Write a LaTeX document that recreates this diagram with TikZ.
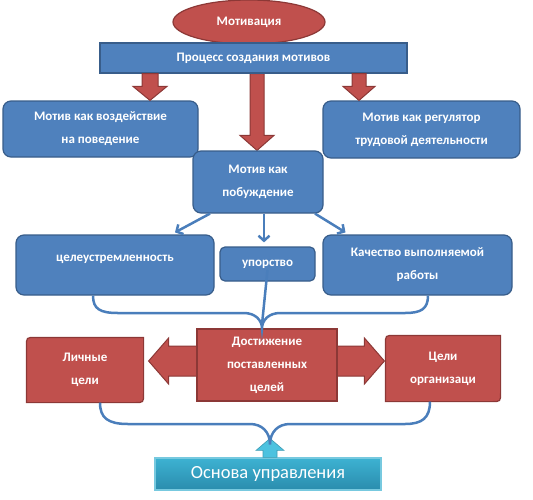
\documentclass[tikz,border=0pt]{standalone}
\usepackage{fontspec}
\setmainfont{Carlito}
\usetikzlibrary{arrows.meta, shapes.geometric, calc, backgrounds}
\definecolor{cblue}{HTML}{4F81BD}
\definecolor{cbluedark}{HTML}{385D8A}
\definecolor{clink}{HTML}{4A7EBB}
\definecolor{cred}{HTML}{C0504D}
\definecolor{creddark}{HTML}{8C3836}
\definecolor{cteal}{HTML}{3DB2D2}
\definecolor{ctealdark}{HTML}{2A8CAD}
\definecolor{ctealarrow}{HTML}{4CC2DF}
\tikzset{
  every picture/.style={line width=1.2pt},
  boxtext/.style={text=white, font=\bfseries\fontsize{13}{23}\selectfont, align=center, inner sep=0pt},
  bluebox/.style={boxtext, draw=cbluedark, fill=cblue, rounded corners=8pt},
  redbox/.style={boxtext, draw=creddark, fill=cred},
  redshape/.style={draw=creddark, fill=cred, line width=1.2pt},
  redarrow/.style={draw=creddark, fill=cred, line width=1pt},
  link/.style={draw=clink, line width=2.5pt},
  linkarrow/.style={link, -{Straight Barb[length=5pt, width=11pt]}},
}
% red block arrow: x, from node, to node, shaft half, head half, head length
\newcommand{\redblock}[6]{%
  \draw[redarrow] let \p1=(#2.south), \p2=(#3.north) in
    (#1pt-#4pt,\y1) -- (#1pt+#4pt,\y1) -- (#1pt+#4pt,\y2+#6pt) -- (#1pt+#5pt,\y2+#6pt)
    -- (#1pt,\y2) -- (#1pt-#5pt,\y2+#6pt) -- (#1pt-#4pt,\y2+#6pt) -- cycle;}
\begin{document}
\begin{tikzpicture}[x=1pt, y=-1pt]
  \useasboundingbox (0,0) rectangle (533,499);
  % top
  \node[ellipse, redbox, minimum width=152pt, minimum height=44pt] (motiv) at (249,22) {Мотивация};
  \node[bluebox, rounded corners=0pt, minimum width=307pt, minimum height=30pt] (proc) at (253.5,58) {Процесс создания мотивов};
  \node[bluebox, minimum width=195pt, minimum height=56pt] (vozd) at (100.5,129) {Мотив как воздействие\\на поведение};
  \node[bluebox, minimum width=197pt, minimum height=57pt] (regul) at (421.5,129.5) {Мотив как регулятор\\трудовой деятельности};
  \redblock{150}{proc}{vozd}{8}{17}{14}
  \redblock{359}{proc}{regul}{7}{16}{14}
  \node[bluebox, minimum width=130pt, minimum height=62pt] (pobuzh) at (258,182) {Мотив как\\побуждение};
  \begin{scope}[on background layer]
    \redblock{257}{proc}{pobuzh}{7}{17}{15}
  \end{scope}
  % second row
  \node[bluebox, minimum width=198pt, minimum height=60pt, text depth=14pt] (tsel) at (115,265) {целеустремленность};
  \node[bluebox, rounded corners=5pt, minimum width=95pt, minimum height=34pt] (upor) at (267.5,264) {упорство};
  \node[bluebox, minimum width=189pt, minimum height=60pt] (kach) at (417.5,265) {Качество выполняемой\\работы};
  \draw[linkarrow] ([xshift=-48pt]pobuzh.south) -- ([xshift=60pt, yshift=2pt]tsel.north);
  \draw[linkarrow] ([xshift=6pt]pobuzh.south) -- ([xshift=-3.5pt, yshift=4pt]upor.north);
  \draw[linkarrow] ([xshift=57pt]pobuzh.south) -- ([xshift=-72pt, yshift=2pt]kach.north);
  % goals
  \node[redbox, draw=none, fill=none, minimum width=116pt, minimum height=64pt] (lich) at (85,370) {Личные\\цели};
  \node[redbox, draw=none, fill=none, minimum width=114pt, minimum height=65pt] (org) at (443,368.5) {Цели\\организаци};
  \begin{scope}[on background layer]
    \foreach \g in {lich, org}
      \draw[redshape] (\g.south west) -- ([yshift=-9pt]\g.north west) .. controls (\g.north west) .. ([xshift=9pt]\g.north west)
        -- (\g.north east) -- ([yshift=9pt]\g.south east) .. controls (\g.south east) .. ([xshift=-9pt]\g.south east) -- cycle;
    \draw[redarrow] let \p1=(lich.east), \p2=(org.west), \p3=(lich.center) in
      (\x1+5pt,\y3+9pt) -- (\x1+25pt,\y3+32pt) -- (\x1+25pt,\y3+24pt) -- (\x2-21pt,\y3+24pt) -- (\x2-21pt,\y3+32pt)
      -- (\x2-1pt,\y3+9pt) -- (\x2-21pt,\y3-14pt) -- (\x2-21pt,\y3-6pt) -- (\x1+25pt,\y3-6pt) -- (\x1+25pt,\y3-14pt) -- cycle;
  \end{scope}
  \node[redbox, minimum width=140pt, minimum height=72pt] (dost) at (267,365) {Достижение\\поставленных\\целей};
  % braces
  \draw[link] ([yshift=-6pt]upor.center) -- ([xshift=-5pt, yshift=4pt]dost.north);
  \draw[link] ([xshift=-22pt]tsel.south) .. controls (93,309) and (100,313) .. (118,313) -- (244,313)
    .. controls (255,313) and (262,320) .. ([xshift=-5pt]dost.north)
    .. controls (262,320) and (269,313) .. (280,313) -- (405,313)
    .. controls (421,313) and (428,309) .. ([xshift=10.5pt]kach.south);
  % base
  \node[boxtext, font=\fontsize{18.5}{20}\selectfont, draw=cteal!70!white, top color=cteal, bottom color=ctealdark,
    minimum width=226pt, minimum height=32pt] (osnova) at (268,474) {Основа управления};
  \draw[ctealarrow!80!black, fill=ctealarrow, line width=0.6pt] ([xshift=-5pt]osnova.north) -- ++(0,-7) -- ++(-7,0)
    -- ([xshift=2pt, yshift=19pt]osnova.north) -- ([xshift=16pt, yshift=7pt]osnova.north) -- ++(-7,0) -- ([xshift=9pt]osnova.north) -- cycle;
  \draw[link] ([xshift=15pt]lich.south) .. controls (100,418) and (108,424) .. (128,424) -- (250,424)
    .. controls (262,424) and (270,432) .. ([xshift=2pt, yshift=13pt]osnova.north)
    .. controls (270,432) and (278,424) .. (290,424) -- (405,424)
    .. controls (422,424) and (430,418) .. ([xshift=-13pt]org.south);
\end{tikzpicture}
\end{document}
